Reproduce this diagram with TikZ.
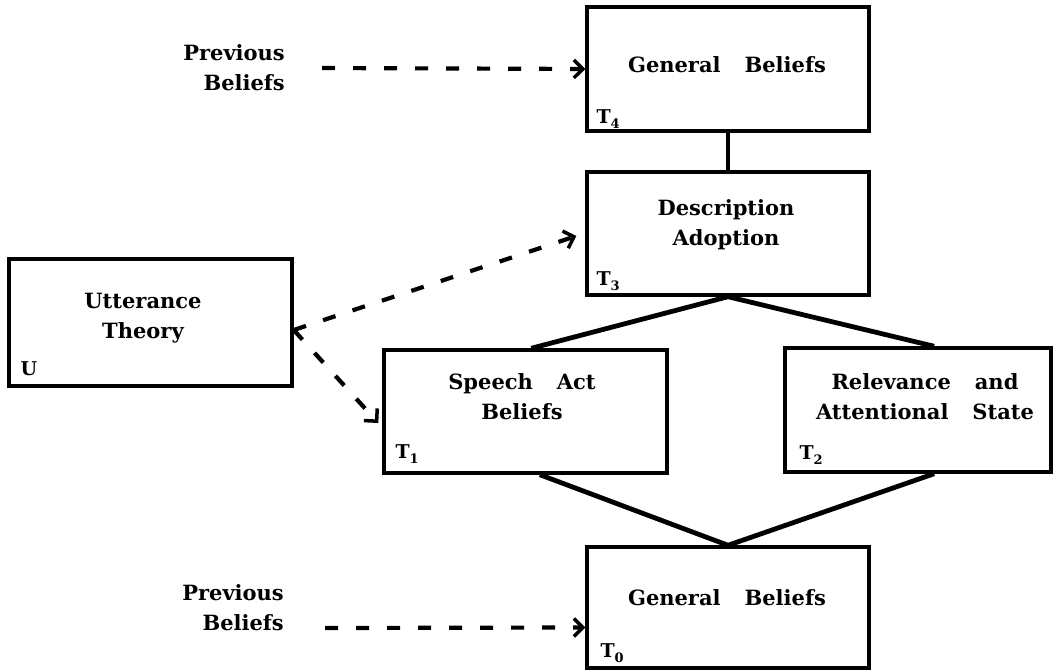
\documentclass[tikz,border=0pt]{standalone}
\usepackage{fontspec}
\setmainfont{DejaVu Serif}
\usetikzlibrary{arrows.meta,calc}
\newcommand\wsp{\hspace{24pt}}
\newcommand\sub[1]{\raisebox{-5pt}{\fontsize{13}{13}\selectfont #1}}
\begin{document}
\begin{tikzpicture}[x=1pt,y=-1pt,
  box/.style={draw, line width=3.4pt, inner sep=0pt},
  lbl/.style={font=\bfseries\fontsize{21}{30}\selectfont, align=center, inner sep=0pt},
  tl/.style={font=\bfseries\fontsize{19}{19}\selectfont, anchor=base west, inner sep=0pt},
  link/.style={line width=3.4pt},
  vline/.style={line width=4.8pt, line join=miter},
  darrow/.style={line width=4.2pt, dash pattern=on 13pt off 18pt,
    -{Straight Barb[length=9pt,width=18pt,line width=3.5pt]}}]
\useasboundingbox (0,0) rectangle (1054,671);
% boxes
\node[box, minimum width=282pt, minimum height=124pt] (gb4) at (728,69) {};
\node[box, minimum width=282pt, minimum height=123pt] (da) at (728,233.5) {};
\node[box, minimum width=283pt, minimum height=127pt] (ut) at (150.5,322.5) {};
\node[box, minimum width=283pt, minimum height=123pt] (sa) at (525.5,411.5) {};
\node[box, minimum width=266pt, minimum height=124pt] (ra) at (918,410) {};
\node[box, minimum width=282pt, minimum height=121pt] (gb0) at (728,607.5) {};
% texts
\node[lbl] (gb4t) at (727,65) {General\wsp Beliefs};
\node[lbl] (dat) at (726,225) {Description\\Adoption};
\node[lbl] (utt) at (143,318) {Utterance\\Theory};
\node[lbl] (sat) at (522,397) {Speech\wsp Act\\Beliefs};
\node[lbl] (rat) at (925,397) {Relevance\wsp and\\Attentional\wsp State};
\node[lbl] (gb0t) at (727,598) {General\wsp Beliefs};
\node[lbl, align=right, anchor=east] (pb4) at (285,68) {Previous\\Beliefs};
\node[lbl, align=right, anchor=east] (pb0) at (284,608) {Previous\\Beliefs};
% corner labels
\node[tl] (t4) at ($(gb4.south west)+(11,-9)$) {T\sub{4}};
\node[tl] (t3) at ($(da.south west)+(11,-11)$) {T\sub{3}};
\node[tl] (u) at ($(ut.south west)+(13,-12)$) {U};
\node[tl] (t1) at ($(sa.south west)+(13,-16)$) {T\sub{1}};
\node[tl] (t2) at ($(ra.south west)+(16,-14)$) {T\sub{2}};
\node[tl] (t0) at ($(gb0.south west)+(15,-12)$) {T\sub{0}};
% solid connectors
\draw[link] (gb4.south) -- (da.north);
\draw[vline] ($(sa.north west)!0.52!(sa.north east)$) -- (da.south) -- ($(ra.north west)!0.56!(ra.north east)$);
\draw[vline] ($(sa.south west)!0.55!(sa.south east)$) -- (gb0.north) -- ($(ra.south west)!0.56!(ra.south east)$);
% dashed arrows
\draw[darrow] ([xshift=37pt]pb4.east) -- (gb4.west);
\draw[darrow] ([shift={(41pt,-20pt)}]pb0.east) -- ([yshift=-20pt]gb0.west);
\draw[darrow] ([yshift=-7.5pt]ut.east) -- ([shift={(-9pt,-2.5pt)}]da.west);
\draw[darrow] ([yshift=-7.5pt]ut.east) -- ([shift={(-4pt,-11.5pt)}]sa.west);
\end{tikzpicture}
\end{document}
